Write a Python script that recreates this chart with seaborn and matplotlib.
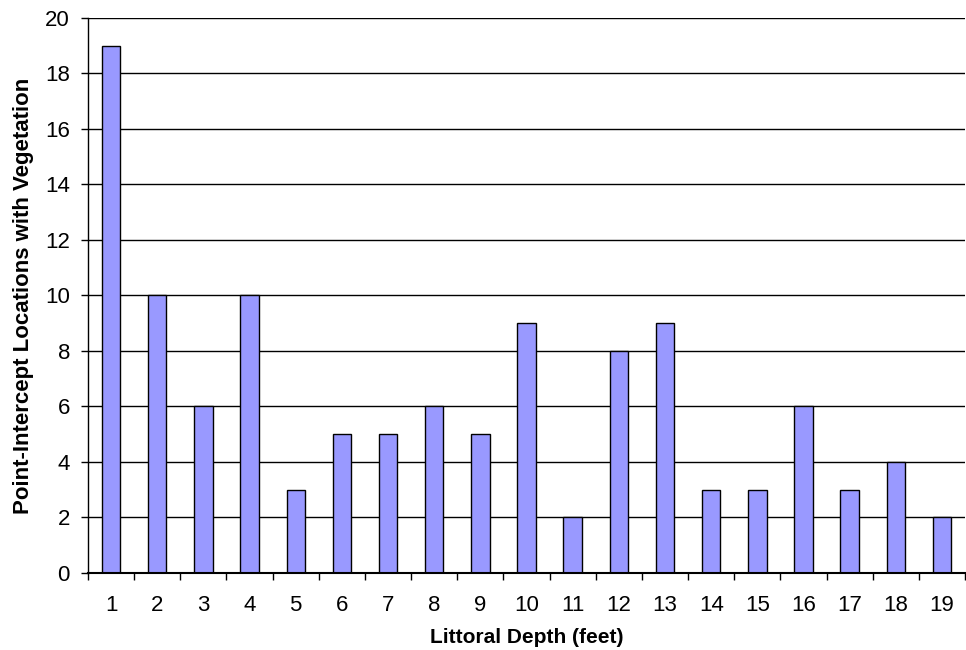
import matplotlib
matplotlib.use("Agg")
import matplotlib.pyplot as plt
import seaborn as sns
import pandas as pd
import numpy as np

depths = [str(i) for i in range(1, 20)]
counts = [19, 10, 6, 10, 3, 5, 5, 6, 5, 9, 2, 8, 9, 3, 3, 6, 3, 4, 2]

sns.set_style("white")
plt.rcParams['font.family'] = ['Liberation Sans', 'DejaVu Sans']
plt.rcParams.update({"text.color": "black", "axes.labelcolor": "black",
                     "xtick.color": "black", "ytick.color": "black"})

df = pd.DataFrame({"depth": depths, "count": counts})

fig = plt.figure(figsize=(9.66, 6.5), dpi=100)
ax = fig.add_axes([0.0911, 0.1185, 0.908, 0.854])
sns.barplot(data=df, x="depth", y="count", color="#9999FF", saturation=1,
            width=0.4, edgecolor="black", linewidth=1, ax=ax, zorder=3)

ax.set_ylim(0, 20)
ax.set_xlim(-0.5, 18.5)
ax.set_yticks(range(0, 21, 2))
ax.yaxis.grid(True, color="black", linewidth=1)
ax.set_axisbelow(True)
for s in ["top", "right"]:
    ax.spines[s].set_visible(False)
for s in ["left", "bottom"]:
    ax.spines[s].set_color("black")
    ax.spines[s].set_linewidth(1)
ax.spines["bottom"].set_linewidth(1.5)
ax.spines["bottom"].set_zorder(5)

ax.tick_params(axis="y", which="major", direction="out", length=5, width=1,
               color="black", labelcolor="black", labelsize=16, pad=8, left=True)
ax.tick_params(axis="x", which="major", length=0, labelsize=16, pad=15.5,
               labelcolor="black")
ax.set_xticks(np.arange(-0.5, 19, 1), minor=True)
ax.tick_params(axis="x", which="minor", direction="out", length=5, width=1,
               color="black", bottom=True)

ax.set_xlabel("Littoral Depth (feet)", fontsize=15, fontweight="bold",
              labelpad=9, color="black")
ax.set_ylabel("Point-Intercept Locations with Vegetation", fontsize=16,
              fontweight="bold", labelpad=8, color="black")

fig.savefig("out.png", dpi=100)
